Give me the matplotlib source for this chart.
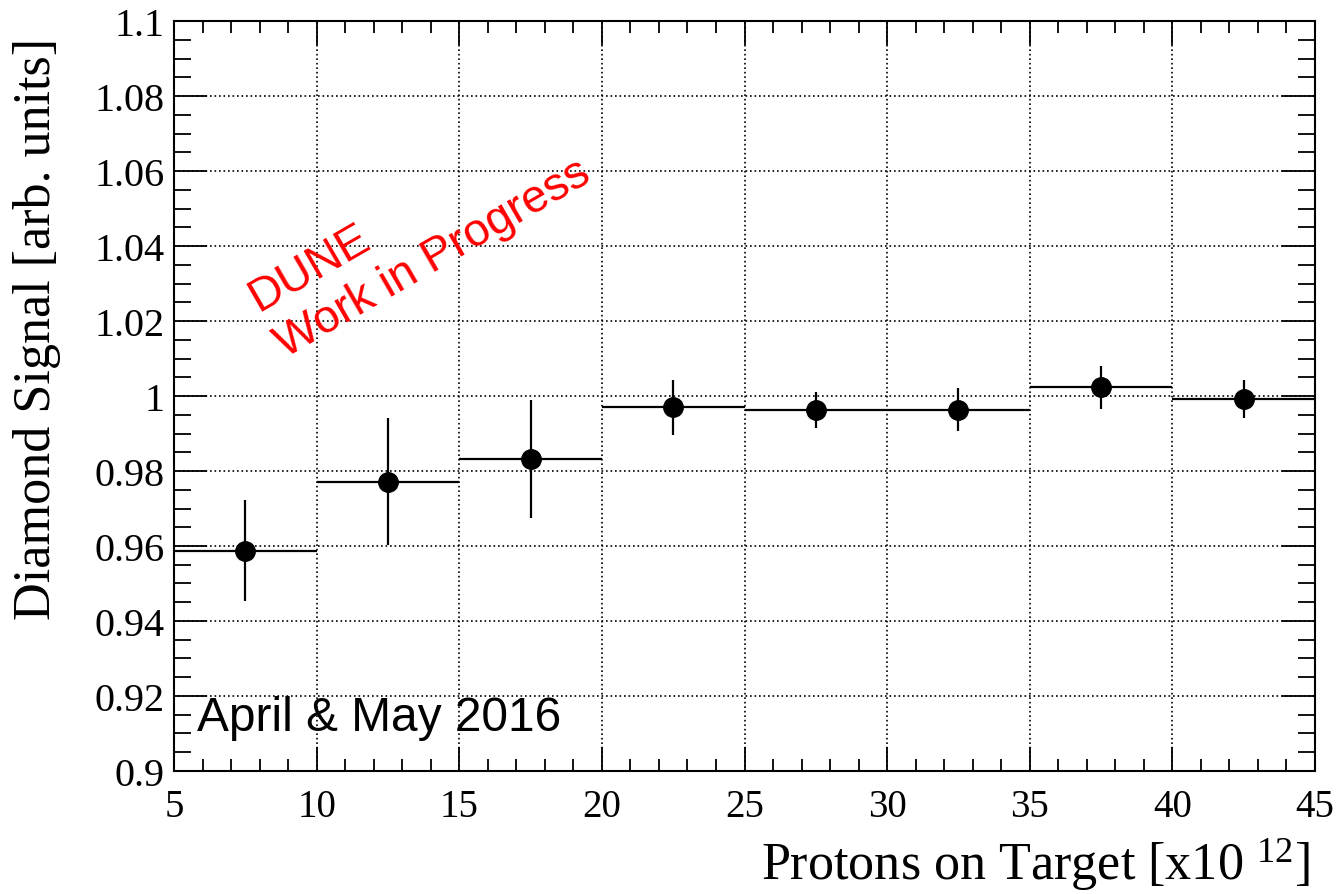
import matplotlib
matplotlib.use("Agg")
import matplotlib.pyplot as plt
from matplotlib.ticker import MultipleLocator, FixedLocator, FixedFormatter

# === data ===
pot_centers = [7.5, 12.5, 17.5, 22.5, 27.5, 32.5, 37.5, 42.5]   # x10^12
pot_halfwidth = [2.5, 2.5, 2.5, 2.5, 2.5, 2.5, 2.5, 2.5]
signal = [0.9587, 0.9772, 0.9832, 0.9970, 0.9964, 0.9964, 1.0023, 0.9992]
signal_err = [0.0135, 0.0170, 0.0157, 0.0074, 0.0048, 0.0058, 0.0058, 0.0050]

ytick_vals = [0.90, 0.92, 0.94, 0.96, 0.98, 1.00, 1.02, 1.04, 1.06, 1.08, 1.10]
ytick_labels = ['0.9', '0.92', '0.94', '0.96', '0.98', '1', '1.02', '1.04', '1.06', '1.08', '1.1']
xtick_vals = [5, 10, 15, 20, 25, 30, 35, 40, 45]

plt.rcParams['font.family'] = ['Liberation Serif', 'DejaVu Serif']
plt.rcParams['mathtext.fontset'] = 'custom'
plt.rcParams['mathtext.rm'] = 'Liberation Serif'
plt.rcParams['mathtext.it'] = 'Liberation Serif:italic'

W, H = 1337, 895
fig = plt.figure(figsize=(W / 100, H / 100), dpi=100)
ax = fig.add_axes([174 / W, 1 - 772 / H, (1315 - 174) / W, (772 - 22) / H])

ax.set_xlim(5, 45)
ax.set_ylim(0.9, 1.1)

# grid (ROOT-style dotted)
ax.grid(True, which='major', color='black', linestyle=(0, (1, 1.7)), linewidth=1.2)
ax.set_axisbelow(True)

ax.errorbar(pot_centers, signal, xerr=pot_halfwidth, yerr=signal_err,
            fmt='o', color='black', markersize=14, elinewidth=1.6,
            capsize=0, zorder=3, clip_on=False)

# ticks
ax.xaxis.set_major_locator(FixedLocator(xtick_vals))
ax.xaxis.set_minor_locator(MultipleLocator(1))
ax.yaxis.set_major_locator(FixedLocator(ytick_vals))
ax.yaxis.set_major_formatter(FixedFormatter(ytick_labels))
ax.yaxis.set_minor_locator(MultipleLocator(0.005))

ax.tick_params(which='both', direction='in', top=True, right=True, width=1.3, color='black')
ax.tick_params(axis='x', which='major', length=17, labelsize=28, pad=12)
ax.tick_params(axis='x', which='minor', length=8.6)
ax.tick_params(axis='y', which='major', length=24, labelsize=29, pad=7)
ax.tick_params(axis='y', which='minor', length=12)
for s in ax.spines.values():
    s.set_linewidth(1.5)

# axis titles
fig.text(1310 / W, 1 - 880 / H, 'Protons on Target [x10 $^{12}$]',
         ha='right', va='baseline', fontsize=37.5)
fig.text(37 / W, 1 - 38 / H, 'Diamond Signal [arb. units]',
         rotation=90, ha='center', va='top', fontsize=37.5)

# annotations
def px2data(px, py):
    return 5 + (px - 174) / (1141 / 40), 1.1 - (py - 22) / (750 / 0.2)

x0, y0 = px2data(258, 312)
ax.text(x0, y0, 'DUNE', color='red', fontsize=33.5, rotation=30, rotation_mode='anchor',
        ha='left', va='baseline', family=['Liberation Sans', 'DejaVu Sans'])
x1, y1 = px2data(285, 358)
ax.text(x1, y1, 'Work in Progress', color='red', fontsize=33.5, rotation=30,
        rotation_mode='anchor', ha='left', va='baseline',
        family=['Liberation Sans', 'DejaVu Sans'])
x2, y2 = px2data(197, 731)
ax.text(x2, y2, 'April & May 2016', color='black', fontsize=34.5,
        ha='left', va='baseline', family=['Liberation Sans', 'DejaVu Sans'])

fig.savefig('out.png', dpi=100)
